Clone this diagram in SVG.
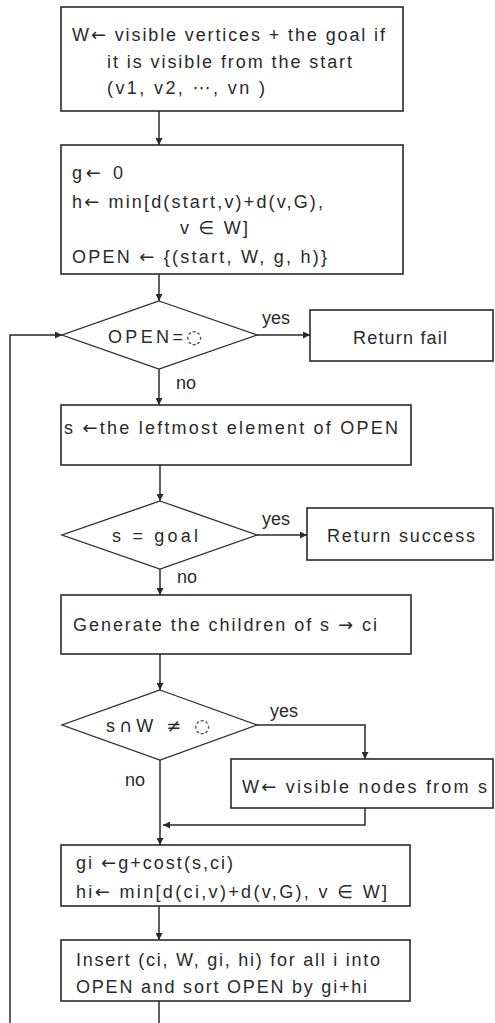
<svg xmlns="http://www.w3.org/2000/svg" width="495" height="1023" viewBox="0 0 495 1023">
<style>
.box{fill:#fff;stroke:#2a2a2a;stroke-width:1.6}
.dia{fill:#fff;stroke:#2a2a2a;stroke-width:1.3}
.con{fill:none;stroke:#2a2a2a;stroke-width:1.5}
text{font-family:"Liberation Sans","DejaVu Sans",sans-serif;font-size:18px;fill:#2a2a2a}
.s{font-family:"DejaVu Sans",sans-serif}
.c{text-anchor:middle}
</style>
<defs>
<marker id="ah" viewBox="0 0 10 10" refX="10" refY="5" markerWidth="7" markerHeight="7" markerUnits="userSpaceOnUse" orient="auto">
<path d="M0,0 L10,5 L0,10 z" fill="#2a2a2a"/>
</marker>
</defs>
<rect width="495" height="1023" fill="#fff"/>
<g id="connectors">
<line class="con" x1="159" y1="111" x2="159" y2="145" marker-end="url(#ah)"/>
<line class="con" x1="159" y1="274" x2="159" y2="301" marker-end="url(#ah)"/>
<polyline class="con" points="10,1023 10,335 62,335" marker-end="url(#ah)"/>
<line class="con" x1="257" y1="335" x2="310" y2="335" marker-end="url(#ah)"/>
<line class="con" x1="159" y1="369" x2="159" y2="405" marker-end="url(#ah)"/>
<line class="con" x1="160" y1="465" x2="160" y2="501" marker-end="url(#ah)"/>
<line class="con" x1="257" y1="535" x2="307" y2="535" marker-end="url(#ah)"/>
<line class="con" x1="160" y1="569" x2="160" y2="595" marker-end="url(#ah)"/>
<line class="con" x1="160" y1="654" x2="160" y2="690" marker-end="url(#ah)"/>
<polyline class="con" points="257,725 365,725 365,759" marker-end="url(#ah)"/>
<line class="con" x1="160" y1="760" x2="160" y2="845" marker-end="url(#ah)"/>
<polyline class="con" points="365,808 365,825 163,825" marker-end="url(#ah)"/>
<line class="con" x1="159" y1="906" x2="159" y2="940" marker-end="url(#ah)"/>
<line class="con" x1="159" y1="1001" x2="159" y2="1023"/>
<text x="276" y="324" class="c">yes</text>
<text x="186" y="389" class="c">no</text>
<text x="276" y="525" class="c">yes</text>
<text x="187" y="583" class="c">no</text>
<text x="284" y="717" class="c">yes</text>
<text x="135" y="786" class="c">no</text>
</g>
<g id="init-w">
<rect class="box" x="61" y="7" width="342" height="104"/>
<text x="72" y="41" textLength="313" lengthAdjust="spacing">W<tspan class="s">←</tspan> visible vertices + the goal if</text>
<text x="107" y="68" textLength="245" lengthAdjust="spacing">it is visible from the start</text>
<text x="107" y="94" textLength="158" lengthAdjust="spacing">(v1, v2, <tspan class="s">⋯</tspan>, vn )</text>
</g>
<g id="init-open">
<rect class="box" x="61" y="145" width="342" height="129"/>
<text x="72" y="179" textLength="51" lengthAdjust="spacing">g<tspan class="s">←</tspan> 0</text>
<text x="72" y="208" textLength="251" lengthAdjust="spacing">h<tspan class="s">←</tspan> min[d(start,v)+d(v,G),</text>
<text x="180" y="234" textLength="68" lengthAdjust="spacing">v <tspan class="s">∈</tspan> W]</text>
<text x="72" y="263" textLength="255" lengthAdjust="spacing">OPEN <tspan class="s">←</tspan> {(start, W, g, h)}</text>
</g>
<g id="open-empty">
<polygon class="dia" points="159,301 257,335 159,369 62,335"/>
<text x="108" y="343" textLength="94" lengthAdjust="spacing">OPEN=<tspan class="s">◌</tspan></text>
</g>
<g id="return-fail">
<rect class="box" x="310" y="310" width="183" height="51"/>
<text x="353" y="344" textLength="94" lengthAdjust="spacing">Return fail</text>
</g>
<g id="pick-s">
<rect class="box" x="61" y="405" width="350" height="60"/>
<text x="64" y="434" textLength="334" lengthAdjust="spacing">s <tspan class="s">←</tspan>the leftmost element of OPEN</text>
</g>
<g id="is-goal">
<polygon class="dia" points="160,501 257,535 160,569 62,535"/>
<text x="112" y="542" textLength="86" lengthAdjust="spacing">s = goal</text>
</g>
<g id="return-success">
<rect class="box" x="307" y="508" width="186" height="52"/>
<text x="327" y="542" textLength="148" lengthAdjust="spacing">Return success</text>
</g>
<g id="generate">
<rect class="box" x="61" y="595" width="350" height="59"/>
<text x="73" y="631" textLength="304" lengthAdjust="spacing">Generate the children of s <tspan class="s">→</tspan> ci</text>
</g>
<g id="intersect">
<polygon class="dia" points="160,690 257,725 160,760 62,725"/>
<text x="106" y="732" textLength="104" lengthAdjust="spacing">s<tspan class="s">∩</tspan>W <tspan class="s">≠</tspan> <tspan class="s">◌</tspan></text>
</g>
<g id="update-w">
<rect class="box" x="231" y="759" width="262" height="49"/>
<text x="242" y="793" textLength="245" lengthAdjust="spacing">W<tspan class="s">←</tspan> visible nodes from s</text>
</g>
<g id="compute-gh">
<rect class="box" x="61" y="845" width="349" height="61"/>
<text x="76" y="869" textLength="157" lengthAdjust="spacing">gi <tspan class="s">←</tspan>g+cost(s,ci)</text>
<text x="76" y="898" textLength="311" lengthAdjust="spacing">hi<tspan class="s">←</tspan> min[d(ci,v)+d(v,G), v <tspan class="s">∈</tspan> W]</text>
</g>
<g id="insert">
<rect class="box" x="61" y="940" width="349" height="61"/>
<text x="76" y="966" textLength="304" lengthAdjust="spacing">Insert (ci, W, gi, hi) for all i into</text>
<text x="76" y="993" textLength="291" lengthAdjust="spacing">OPEN and sort OPEN by gi+hi</text>
</g>
</svg>
